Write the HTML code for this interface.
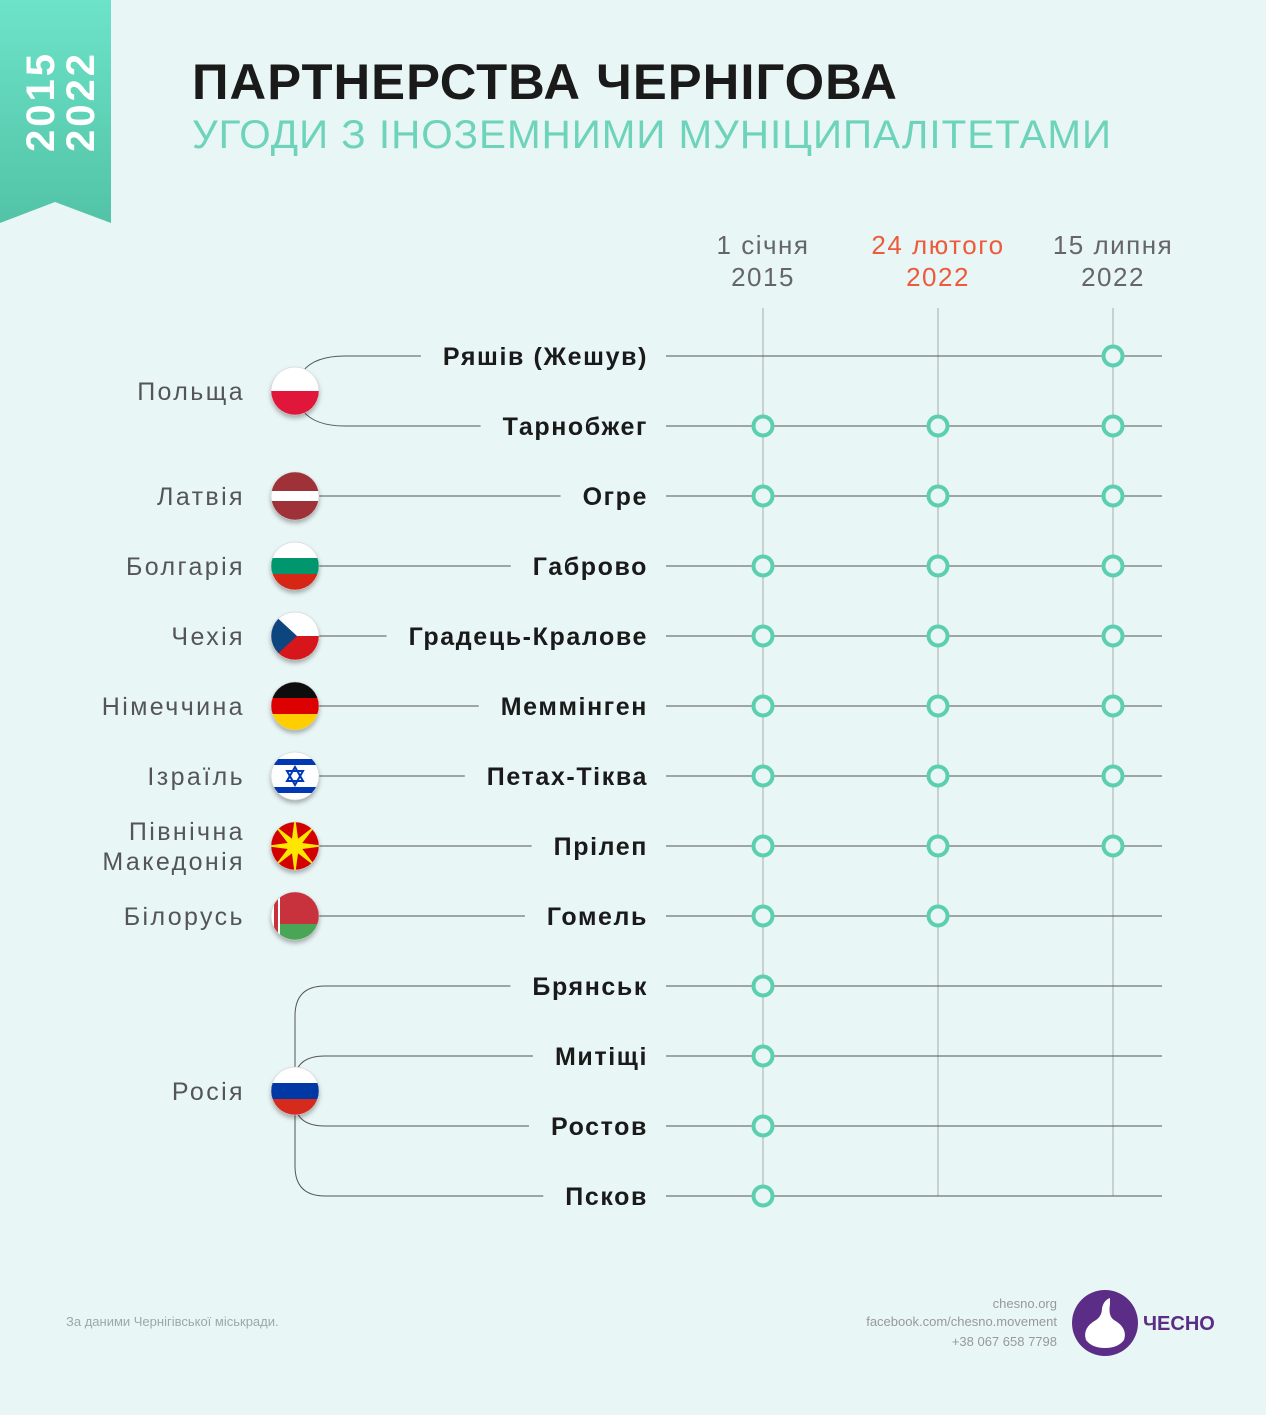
<!DOCTYPE html>
<html><head><meta charset="utf-8">
<style>
html,body{margin:0;padding:0;background:#e8f6f5;}
body{width:1266px;height:1410px;overflow:hidden;position:relative;font-family:"Liberation Sans","DejaVu Sans",sans-serif;}
svg text{font-family:"Liberation Sans","DejaVu Sans",sans-serif;}
</style></head>
<body>
<svg id="root" width="1266" height="1410" viewBox="0 0 1266 1410">
<defs>
<linearGradient id="bn" x1="0" y1="0" x2="0" y2="1"><stop offset="0" stop-color="#6de3c9"/><stop offset="1" stop-color="#52c3a6"/></linearGradient>
<filter id="sh" x="-30%" y="-30%" width="160%" height="170%"><feDropShadow dx="0" dy="3" stdDeviation="2.5" flood-color="#000" flood-opacity="0.3"/></filter>
<clipPath id="fc"><circle cx="0" cy="0" r="24"/></clipPath>
</defs>
<polygon points="0,0 111,0 111,223 55,202 0,223" fill="url(#bn)"/>
<text transform="translate(54,152) rotate(-90)" fill="#fff" font-size="40" font-weight="bold" letter-spacing="3">2015</text>
<text transform="translate(94,152) rotate(-90)" fill="#fff" font-size="40" font-weight="bold" letter-spacing="3">2022</text>
<text x="192" y="99" font-size="50" font-weight="bold" fill="#1a1a1a" letter-spacing="1" textLength="706" lengthAdjust="spacingAndGlyphs">ПАРТНЕРСТВА ЧЕРНІГОВА</text>
<text x="192" y="148" font-size="40" fill="#6dd3bb" letter-spacing="1" textLength="920" lengthAdjust="spacingAndGlyphs">УГОДИ З ІНОЗЕМНИМИ МУНІЦИПАЛІТЕТАМИ</text>
<g id="chart"></g>
<text x="66" y="1326" font-size="13" fill="#9aa">За даними Чернігівської міськради.</text>
<g font-size="13" fill="#999" text-anchor="end">
<text x="1057" y="1308">chesno.org</text>
<text x="1057" y="1326">facebook.com/chesno.movement</text>
<text x="1057" y="1346">+38 067 658 7798</text>
</g>
<g>
<circle cx="1105" cy="1323" r="33" fill="#5b2d86"/>
<path d="M1110 1298 q-6 2 -8 10 q0 8 -6 12 q-14 8 -10 20 q6 8 19 8 q13 0 19 -8 q4 -12 -10 -20 q-6 -4 -4 -16 z" fill="#fff"/>
<text x="1143" y="1330" font-size="20" font-weight="bold" fill="#5b2d86">ЧЕСНО</text>
</g>
</svg>
<script>
const columnLabels1=["1 січня","24 лютого","15 липня"];
const columnLabels2=["2015","2022","2022"];
const countries=["Польща","Латвія","Болгарія","Чехія","Німеччина","Ізраїль","Північна|Македонія","Білорусь","Росія"];
const cities=["Ряшів (Жешув)","Тарнобжег","Огре","Габрово","Градець-Кралове","Меммінген","Петах-Тіква","Прілеп","Гомель","Брянськ","Митіщі","Ростов","Псков"];
const cityCountry=[0,0,1,2,3,4,5,6,7,8,8,8,8];
const col2015=[0,1,1,1,1,1,1,1,1,1,1,1,1];
const colFeb22=[0,1,1,1,1,1,1,1,1,0,0,0,0];
const colJul22=[1,1,1,1,1,1,1,1,0,0,0,0,0];
const series=[col2015,colFeb22,colJul22];
const flagKeys=["pl","lv","bg","cz","de","il","mk","by","ru"];

const NS="http://www.w3.org/2000/svg";
const g=document.getElementById('chart');
const colX=i=>763+i*175;
const rowY=i=>356+i*70;
const FX=295;
function mk(t,a,p){const e=document.createElementNS(NS,t);for(const k in a)e.setAttribute(k,a[k]);(p||g).appendChild(e);return e;}
const lineLayer=mk('g',{});
const markLayer=mk('g',{});
const flagLayer=mk('g',{});
const cityStart=[];
columnLabels1.forEach((l,i)=>{
 const c=i==1?"#ee5a3c":"#666";
 const t1=mk('text',{x:colX(i),y:254,'text-anchor':'middle','font-size':26,fill:c,'letter-spacing':1.5});t1.textContent=l;
 
 
 const t2=mk('text',{x:colX(i),y:286,'text-anchor':'middle','font-size':26,fill:c,'letter-spacing':1.5});t2.textContent=columnLabels2[i];
 
 
 const v=mk('line',{x1:colX(i),y1:308,x2:colX(i),y2:rowY(cities.length-1),stroke:'#aaa','stroke-width':1},lineLayer);
 
 
});
cities.forEach((c,i)=>{
 const y=rowY(i);
 const l=mk('line',{x1:666,y1:y,x2:1162,y2:y,stroke:'#555','stroke-width':1},lineLayer);
 
 
 const t=mk('text',{x:648,y:y+9,'text-anchor':'end','font-size':25,'font-weight':'bold',fill:'#1a1a1a','letter-spacing':1.6});t.textContent=c;
 
 
 let w=c.length*16;
 try{w=t.getComputedTextLength();}catch(e){}
 cityStart[i]=648-w-22;
 series.forEach((s,j)=>{
  if(s[i]){
   const m=mk('circle',{cx:colX(j),cy:y,r:9.5,fill:'#e8f6f5',stroke:'#5ccfb0','stroke-width':4},markLayer);
   
   
  }
 });
});
countries.forEach((cn,k)=>{
 const rows=[];cityCountry.forEach((cc,i)=>{if(cc===k)rows.push(i);});
 const fy=(rowY(rows[0])+rowY(rows[rows.length-1]))/2;
 if(rows.length===1){
  const y=rowY(rows[0]);
  const p=mk('line',{x1:FX,y1:y,x2:cityStart[rows[0]],y2:y,stroke:'#555','stroke-width':1},lineLayer);
  
  
 } else if(rows.length===2){
  rows.forEach(i=>{
   const y=rowY(i);
   const d=y<fy?`M${FX+8},${fy-20} Q${FX+20},${y} ${FX+50},${y} L${cityStart[i]},${y}`:`M${FX+8},${fy+20} Q${FX+20},${y} ${FX+50},${y} L${cityStart[i]},${y}`;
   const p=mk('path',{d:d,fill:'none',stroke:'#555','stroke-width':1},lineLayer);
   
   
  });
 } else {
  const y0=rowY(rows[0]),y1=rowY(rows[rows.length-1]);
  const d=`M${cityStart[rows[0]]},${y0} L${FX+30},${y0} Q${FX},${y0} ${FX},${y0+30} L${FX},${y1-30} Q${FX},${y1} ${FX+30},${y1} L${cityStart[rows[rows.length-1]]},${y1}`;
  const p=mk('path',{d:d,fill:'none',stroke:'#555','stroke-width':1},lineLayer);
  
  
  rows.slice(1,-1).forEach(i=>{
   const y=rowY(i);
   const d2=y<fy?`M${FX},${fy-10} Q${FX},${y} ${FX+30},${y} L${cityStart[i]},${y}`:`M${FX},${fy+10} Q${FX},${y} ${FX+30},${y} L${cityStart[i]},${y}`;
   const q=mk('path',{d:d2,fill:'none',stroke:'#555','stroke-width':1},lineLayer);
   
   
  });
 }
 const parts=cn.split('|');
 parts.forEach((pt,pi)=>{
  const ty=fy+9+(pi-(parts.length-1)/2)*30;
  const t=mk('text',{x:245,y:ty,'text-anchor':'end','font-size':25,fill:'#555','letter-spacing':2.4});t.textContent=pt;
  
  
 });
 const fg=mk('g',{transform:`translate(${FX},${fy})`,filter:'url(#sh)'},flagLayer);
 
 
 const inner=mk('g',{'clip-path':'url(#fc)'},fg);
 const R=(x,y,w,h,f)=>mk('rect',{x:x,y:y,width:w,height:h,fill:f},inner);
 switch(flagKeys[k]){
  case 'pl':R(-24,-24,48,24,'#fff');R(-24,0,48,24,'#e0193a');break;
  case 'lv':R(-24,-24,48,48,'#9e3039');R(-24,-5,48,10,'#fff');break;
  case 'bg':R(-24,-24,48,16,'#fff');R(-24,-8,48,16,'#00966e');R(-24,8,48,16,'#d62612');break;
  case 'cz':R(-24,-24,48,24,'#fff');R(-24,0,48,24,'#d7141a');mk('polygon',{points:'-24,-24 2,0 -24,24',fill:'#11457e'},inner);break;
  case 'de':R(-24,-24,48,16,'#111');R(-24,-8,48,16,'#dd0000');R(-24,8,48,16,'#ffce00');break;
  case 'il':R(-24,-24,48,48,'#fff');R(-24,-17,48,6,'#0038b8');R(-24,11,48,6,'#0038b8');
   mk('polygon',{points:'0,-9 8,5 -8,5',fill:'none',stroke:'#0038b8','stroke-width':2},inner);
   mk('polygon',{points:'0,9 8,-5 -8,-5',fill:'none',stroke:'#0038b8','stroke-width':2},inner);break;
  case 'mk':R(-24,-24,48,48,'#d20000');
   for(let a=0;a<8;a++){mk('polygon',{points:'-4,0 4,0 0,-30',fill:'#ffe600',transform:`rotate(${a*45})`},inner);}
   mk('circle',{cx:0,cy:0,r:8,fill:'#ffe600'},inner);break;
  case 'by':R(-24,-24,48,32,'#c8313e');R(-24,8,48,16,'#4aa657');R(-24,-24,9,48,'#fff');R(-21,-24,4,48,'#c8313e');break;
  case 'ru':R(-24,-24,48,16,'#fff');R(-24,-8,48,16,'#0039a6');R(-24,8,48,16,'#d52b1e');break;
 }
 mk('circle',{cx:0,cy:0,r:24,fill:'none',stroke:'#ccc','stroke-width':0.5},fg);
});
</script>
</body></html>
